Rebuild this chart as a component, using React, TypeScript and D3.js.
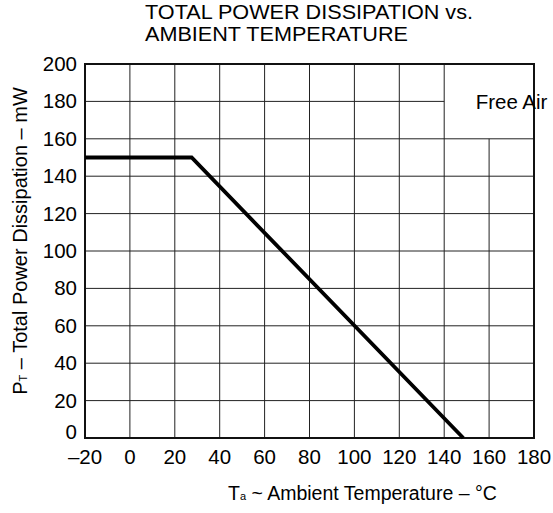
import React from "react";
import * as d3 from "d3";

const temps = [-20, 27.5, 148.5];
const power = [150, 150, 0];
const xTicks = [-20, 0, 20, 40, 60, 80, 100, 120, 140, 160, 180];
const yTicks = [0, 20, 40, 60, 80, 100, 120, 140, 160, 180, 200];
const titleLines = ["TOTAL POWER DISSIPATION vs.", "AMBIENT TEMPERATURE"];
const legendText = "Free Air";

const W = 553;
const H = 513;
const M = { left: 85, right: 534, top: 64, bottom: 438 };
const FONT = "Liberation Sans, Arial, Helvetica, sans-serif";

export default function App() {
  const x = d3.scaleLinear().domain([-20, 180]).range([M.left, M.right]);
  const y = d3.scaleLinear().domain([0, 200]).range([M.bottom, M.top]);
  const line = d3
    .line<number>()
    .x((_, i) => x(temps[i]))
    .y((d) => y(d));

  const gridColor = "#222";
  return (
    <svg
      width={W}
      height={H}
      style={{ position: "absolute", left: 0, top: 0, background: "#fff" }}
      fontFamily={FONT}
    >
      <rect x={0} y={0} width={W} height={H} fill="#fff" />
      {/* Title */}
      <text x={145} y={19} fontSize={20} textLength={328} lengthAdjust="spacingAndGlyphs" fill="#000">
        {titleLines[0]}
      </text>
      <text x={145} y={40.5} fontSize={20} textLength={263} lengthAdjust="spacingAndGlyphs" fill="#000">
        {titleLines[1]}
      </text>

      {/* vertical gridlines */}
      {xTicks.slice(1, -1).map((t) => (
        <line
          key={"vx" + t}
          x1={x(t)}
          x2={x(t)}
          y1={t === 160 ? y(160) : y(200)}
          y2={y(0)}
          stroke={gridColor}
          strokeWidth={1}
        />
      ))}
      {/* horizontal gridlines */}
      {yTicks.slice(1, -1).map((t) => (
        <line
          key={"hy" + t}
          x1={x(-20)}
          x2={t === 180 ? x(140) : x(180)}
          y1={y(t)}
          y2={y(t)}
          stroke={gridColor}
          strokeWidth={1}
        />
      ))}
      {/* frame */}
      <rect
        x={M.left}
        y={M.top}
        width={M.right - M.left}
        height={M.bottom - M.top}
        fill="none"
        stroke="#111"
        strokeWidth={2}
      />

      {/* curve */}
      <path d={line(power) || ""} fill="none" stroke="#000" strokeWidth={3.8} strokeLinejoin="miter" />

      {/* legend text */}
      <text x={x(170)} y={y(180)} dy="0.36em" textAnchor="middle" fontSize={20.5} fill="#000">
        {legendText}
      </text>

      {/* y tick labels */}
      {yTicks.map((t) => (
        <text key={"yl" + t} x={77} y={t === 0 ? y(t) - 6 : y(t)} dy="0.34em" textAnchor="end" fontSize={20.5} fill="#000">
          {t}
        </text>
      ))}
      {/* x tick labels */}
      {xTicks.map((t) => (
        <text key={"xl" + t} x={x(t)} y={464} textAnchor="middle" fontSize={20.5} fill="#000">
          {t < 0 ? "\u2013" + Math.abs(t) : t}
        </text>
      ))}

      {/* x axis title */}
      <text x={228} y={500} fontSize={19.5} fill="#000">
        <tspan>T</tspan>
        <tspan fontSize={11}>a</tspan>
        <tspan> ~ Ambient Temperature – °C</tspan>
      </text>

      {/* y axis title */}
      <text transform="translate(27,241) rotate(-90)" textAnchor="middle" fontSize={20} fill="#000">
        <tspan>P</tspan>
        <tspan fontSize={11}>T</tspan>
        <tspan> – Total Power Dissipation – mW</tspan>
      </text>
    </svg>
  );
}
